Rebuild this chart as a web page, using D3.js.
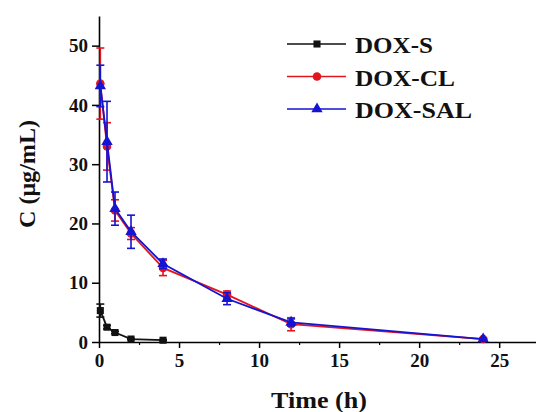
<!DOCTYPE html>
<html>
<head>
<meta charset="utf-8">
<script src="https://cdn.jsdelivr.net/npm/d3@7"></script>
<style>
  body { margin: 0; background: #fff; }
  svg text { font-family: "Liberation Serif", "Times New Roman", serif; font-weight: bold; fill: #111; }
</style>
</head>
<body>
<div id="chart"></div>
<script>
// time points (h)
let timeS = [0.083, 0.5, 1, 2, 4]
let timeL = [0.083, 0.5, 1, 2, 4, 8, 12, 24]

// mean concentration and SD for each formulation
let doxS = [5.3, 2.5, 1.6, 0.5, 0.3]
let doxSsd = [1.1, 0.3, 0.2, 0.1, 0.1]
let doxCL = [43.6, 33.0, 22.2, 18.3, 12.5, 8.0, 3.0, 0.5]
let doxCLsd = [6.0, 4.0, 1.8, 1.0, 1.3, 0.6, 1.1, 0.1]
let doxSAL = [43.2, 33.8, 22.5, 18.6, 13.2, 7.3, 3.3, 0.5]
let doxSALsd = [3.5, 6.8, 2.8, 2.8, 0.8, 1.0, 0.6, 0.1]

let seriesNames = ["DOX-S", "DOX-CL", "DOX-SAL"]
let xTicks = [0, 5, 10, 15, 20, 25]
let yTicks = [0, 10, 20, 30, 40, 50]

let series = [
   { name: seriesNames[0], t: timeS, v: doxS, sd: doxSsd, color: "#111111", shape: d3.symbolSquare, size: 50, w: 78 },
   { name: seriesNames[1], t: timeL, v: doxCL, sd: doxCLsd, color: "#e3161e", shape: d3.symbolCircle, size: 58, w: 100 },
   { name: seriesNames[2], t: timeL, v: doxSAL, sd: doxSALsd, color: "#1414d2", shape: d3.symbolTriangle, size: 56, w: 117 }
]

let margin = { top: 16, right: 0, bottom: 70, left: 99 }
let width = 536 - margin.left - margin.right
let height = 412 - margin.top - margin.bottom

let x = d3.scaleLinear().domain([0, 27.3]).range([0, width])
let y = d3.scaleLinear().domain([0, 55]).range([height, 0])

let svg = d3.select("#chart").append("svg")
   .attr("width", 536)
   .attr("height", 412)

let g = svg.append("g")
   .attr("transform", "translate(" + margin.left + "," + margin.top + ")")

// x axis, major + minor ticks
let xAxis = g.append("g")
   .attr("transform", "translate(0," + height + ")")
   .call(d3.axisBottom(x).tickValues(xTicks).tickSize(6).tickSizeOuter(0).tickPadding(6))
xAxis.selectAll("text").style("font-size", "19px")
xAxis.selectAll("line").attr("stroke-width", 1.5)
xAxis.select(".domain").attr("stroke-width", 1.6)

g.append("g")
   .attr("transform", "translate(0," + height + ")")
   .call(d3.axisBottom(x).tickValues([2.5, 7.5, 12.5, 17.5, 22.5]).tickSize(3).tickFormat(""))
   .call(a => a.select(".domain").remove())
   .selectAll("line").attr("stroke-width", 1.2)

// y axis
let yAxis = g.append("g")
   .call(d3.axisLeft(y).tickValues(yTicks).tickSize(7).tickSizeOuter(0).tickPadding(4))
yAxis.selectAll("text").style("font-size", "19px")
yAxis.selectAll("line").attr("stroke-width", 1.5)
yAxis.select(".domain").attr("stroke-width", 1.6)

// axis titles
svg.append("text")
   .attr("x", 271)
   .attr("y", 408)
   .attr("textLength", 96)
   .attr("lengthAdjust", "spacingAndGlyphs")
   .style("font-size", "24px")
   .text("Time (h)")

svg.append("text")
   .attr("transform", "translate(35,228) rotate(-90)")
   .attr("textLength", 108)
   .attr("lengthAdjust", "spacingAndGlyphs")
   .style("font-size", "24px")
   .text("C (μg/mL)")

let line = d3.line()
   .x(d => x(d.t))
   .y(d => y(d.v))

series.forEach(function (s) {
   let pts = s.t.map((t, i) => ({ t: t, v: s.v[i], sd: s.sd[i] }))
   let sg = g.append("g")

   sg.append("path")
      .datum(pts)
      .attr("fill", "none")
      .attr("stroke", s.color)
      .attr("stroke-width", 1.8)
      .attr("d", line)

   // error bars
   let eb = sg.selectAll("g.err").data(pts).join("g").attr("class", "err")
   eb.append("line")
      .attr("x1", d => x(d.t)).attr("x2", d => x(d.t))
      .attr("y1", d => y(d.v + d.sd)).attr("y2", d => y(Math.max(0, d.v - d.sd)))
      .attr("stroke", s.color).attr("stroke-width", 1.6)
   eb.append("line")
      .attr("x1", d => x(d.t) - 4).attr("x2", d => x(d.t) + 4)
      .attr("y1", d => y(d.v + d.sd)).attr("y2", d => y(d.v + d.sd))
      .attr("stroke", s.color).attr("stroke-width", 1.6)
   eb.append("line")
      .attr("x1", d => x(d.t) - 4).attr("x2", d => x(d.t) + 4)
      .attr("y1", d => y(Math.max(0, d.v - d.sd))).attr("y2", d => y(Math.max(0, d.v - d.sd)))
      .attr("stroke", s.color).attr("stroke-width", 1.6)

   sg.selectAll("path.pt").data(pts).join("path")
      .attr("class", "pt")
      .attr("transform", d => "translate(" + x(d.t) + "," + y(d.v) + ")")
      .attr("d", d3.symbol().type(s.shape).size(s.size))
      .attr("fill", s.color)
})

// legend
let legend = svg.append("g").attr("transform", "translate(287,44)")
series.forEach(function (s, i) {
   let row = legend.append("g").attr("transform", "translate(0," + (i * 32.5) + ")")
   row.append("line")
      .attr("x1", 0).attr("x2", 59)
      .attr("stroke", s.color).attr("stroke-width", 1.6)
   row.append("path")
      .attr("transform", "translate(30,0)")
      .attr("d", d3.symbol().type(s.shape).size(s.size))
      .attr("fill", s.color)
   row.append("text")
      .attr("x", 68)
      .attr("y", 9)
      .attr("textLength", s.w)
      .attr("lengthAdjust", "spacingAndGlyphs")
      .style("font-size", "23px")
      .text(s.name)
})
</script>
</body>
</html>
